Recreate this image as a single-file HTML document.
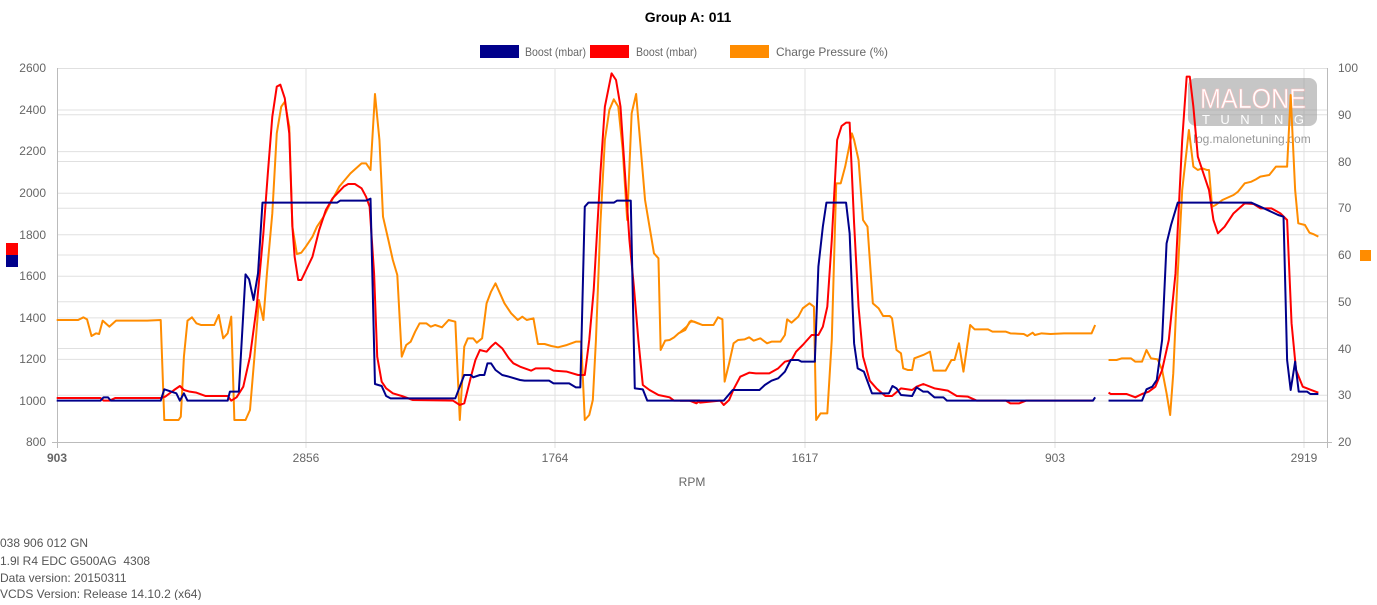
<!DOCTYPE html>
<html><head><meta charset="utf-8"><style>
body{margin:0;background:#fff;font-family:"Liberation Sans",sans-serif;}
svg text{font-family:"Liberation Sans",sans-serif;}
</style></head><body>
<svg width="1377" height="600" xmlns="http://www.w3.org/2000/svg">
<text x="688" y="22" text-anchor="middle" font-size="14" font-weight="bold" fill="#000">Group A: 011</text>
<rect x="480" y="45" width="39" height="13" fill="#00008b"/><text x="525" y="56" font-size="12" fill="#666" textLength="61" lengthAdjust="spacingAndGlyphs">Boost (mbar)</text>
<rect x="590" y="45" width="39" height="13" fill="#f00"/><text x="636" y="56" font-size="12" fill="#666" textLength="61" lengthAdjust="spacingAndGlyphs">Boost (mbar)</text>
<rect x="730" y="45" width="39" height="13" fill="#ff8c00"/><text x="776" y="56" font-size="12" fill="#666" textLength="112" lengthAdjust="spacingAndGlyphs">Charge Pressure (%)</text>
<g stroke="#e0e0e0" stroke-width="1">
<line x1="57" x2="1327" y1="68.5" y2="68.5"/><line x1="57" x2="1327" y1="110" y2="110"/><line x1="57" x2="1327" y1="151.6" y2="151.6"/><line x1="57" x2="1327" y1="193.2" y2="193.2"/><line x1="57" x2="1327" y1="234.7" y2="234.7"/><line x1="57" x2="1327" y1="276.3" y2="276.3"/><line x1="57" x2="1327" y1="317.9" y2="317.9"/><line x1="57" x2="1327" y1="359.4" y2="359.4"/><line x1="57" x2="1327" y1="401" y2="401"/>
<line x1="57" x2="1327" y1="114.8" y2="114.8"/><line x1="57" x2="1327" y1="161.5" y2="161.5"/><line x1="57" x2="1327" y1="208.3" y2="208.3"/><line x1="57" x2="1327" y1="255" y2="255"/><line x1="57" x2="1327" y1="301.8" y2="301.8"/><line x1="57" x2="1327" y1="348.5" y2="348.5"/><line x1="57" x2="1327" y1="395.3" y2="395.3"/>
<line x1="306" x2="306" y1="68" y2="448"/><line x1="555" x2="555" y1="68" y2="448"/><line x1="805" x2="805" y1="68" y2="448"/><line x1="1055" x2="1055" y1="68" y2="448"/><line x1="1304" x2="1304" y1="68" y2="448"/>
</g>
<g stroke="#bbb" stroke-width="1"><line x1="57.5" x2="57.5" y1="68" y2="448"/><line x1="1327.5" x2="1327.5" y1="68" y2="448"/><line x1="52" x2="1332" y1="442.5" y2="442.5"/></g>
<g font-size="12" fill="#666" text-anchor="end">
<text x="46" y="72">2600</text><text x="46" y="114">2400</text><text x="46" y="155">2200</text><text x="46" y="197">2000</text><text x="46" y="239">1800</text><text x="46" y="280">1600</text><text x="46" y="322">1400</text><text x="46" y="363">1200</text><text x="46" y="405">1000</text><text x="46" y="446">800</text>
</g>
<g font-size="12" fill="#666">
<text x="1338" y="72">100</text><text x="1338" y="119">90</text><text x="1338" y="166">80</text><text x="1338" y="212">70</text><text x="1338" y="259">60</text><text x="1338" y="306">50</text><text x="1338" y="353">40</text><text x="1338" y="399">30</text><text x="1338" y="446">20</text>
</g>
<g font-size="12" fill="#666" text-anchor="middle">
<text x="57" y="462" font-weight="bold">903</text><text x="306" y="462">2856</text><text x="555" y="462">1764</text><text x="805" y="462">1617</text><text x="1055" y="462">903</text><text x="1304" y="462">2919</text>
<text x="692" y="486">RPM</text>
</g>
<rect x="6" y="243" width="12" height="12" fill="#f00"/><rect x="6" y="255" width="12" height="12" fill="#00008b"/>
<rect x="1360" y="250" width="11" height="11" fill="#ff8c00"/>
<g opacity="0.55"><rect x="1188" y="78" width="129" height="48" rx="8" fill="#999"/>
<text x="1200" y="108" font-size="28" fill="#fff" stroke="#f88" stroke-width="0.6" textLength="106" lengthAdjust="spacingAndGlyphs">MALONE</text>
<text x="1202" y="124" font-size="13" fill="#fff" textLength="102" lengthAdjust="spacing">TUNING</text></g>
<text x="1252" y="143" text-anchor="middle" font-size="12" fill="#999">log.malonetuning.com</text>
<g fill="none" stroke-width="2" stroke-linejoin="round">
<g transform="translate(0,40) scale(0.4464,0.33333)">
<polyline vector-effect="non-scaling-stroke" stroke="#ff8c00" points="127,840 150,840 175,840 187,832 195,838 205,888 215,880 222,882 230,842 245,860 260,842 300,842 330,842 360,840 368,1140 400,1140 405,1130 412,950 420,842 430,832 440,850 450,855 480,855 490,825 500,895 510,880 518,830 525,1140 550,1140 560,1110 570,950 580,780 590,840 598,700 610,520 620,280 630,200 638,185 648,260 655,560 665,642 675,638 685,620 700,590 710,560 725,530 740,490 760,440 785,400 810,370 820,370 830,390 840,162 850,300 858,530 870,600 880,660 890,705 900,950 910,915 920,905 930,875 940,850 955,850 965,860 975,855 990,862 1005,840 1020,845 1030,1140 1040,920 1048,895 1060,895 1068,908 1080,895 1090,790 1100,755 1110,730 1120,760 1130,790 1145,820 1160,840 1170,830 1180,840 1195,835 1205,912 1220,912 1235,918 1250,922 1270,915 1290,905 1302,905 1310,1140 1320,1125 1328,1080 1335,900 1345,550 1355,300 1365,210 1375,178 1385,200 1395,330 1405,540 1415,220 1425,162 1435,320 1445,480 1455,560 1465,640 1475,655 1480,930 1490,902 1500,900 1510,892 1520,880 1535,870 1545,845 1555,845 1568,852"/>
<polyline vector-effect="non-scaling-stroke" stroke="#f00" points="127,1074 225,1074 232,1082 245,1082 258,1074 360,1074 370,1070 390,1050 403,1038 412,1050 425,1055 440,1058 460,1068 510,1068 518,1082 530,1072 545,1040 560,950 575,800 590,580 600,400 610,230 620,140 628,134 638,175 648,280 655,560 660,650 668,720 675,720 700,650 715,570 730,510 745,475 770,440 780,432 795,432 810,445 820,470 828,500 838,700 845,950 855,1025 865,1045 880,1060 900,1068 925,1080 1015,1082 1030,1095 1040,1090 1055,1010 1065,960 1075,930 1090,935 1100,920 1110,908 1125,925 1140,955 1150,970 1165,980 1190,992 1200,985 1230,985 1240,992 1270,995 1295,1005 1310,1005 1320,900 1330,750 1345,400 1355,200 1370,100 1380,120 1390,200 1400,400 1410,600 1420,740 1430,900 1440,1035 1455,1050 1475,1065 1500,1072 1510,1082 1545,1082 1560,1090 1568,1082"/>
<polyline vector-effect="non-scaling-stroke" stroke="#00008b" points="127,1082 225,1082 232,1072 242,1072 248,1082 360,1082 368,1048 395,1060 403,1082 412,1060 420,1082 510,1082 515,1055 535,1055 550,703 558,718 568,780 578,700 588,488 755,488 762,482 820,482 830,476 840,1032 855,1038 865,1068 875,1075 1020,1075 1040,1005 1055,1005 1060,1012 1075,1005 1085,1005 1092,970 1100,970 1110,990 1125,1005 1140,1010 1165,1020 1175,1022 1230,1022 1240,1030 1275,1030 1290,1042 1300,1042 1310,500 1318,488 1375,488 1382,482 1413,482 1422,1045 1440,1048 1450,1082 1568,1082"/>
</g>
<g transform="translate(680,40) scale(0.4464,0.33333)">
<polyline vector-effect="non-scaling-stroke" stroke="#ff8c00" points="0,877 15,860 25,842 40,850 50,855 75,855 85,832 95,838 100,1025 110,970 120,910 130,900 145,898 155,892 165,902 180,895 195,910 205,905 225,905 235,885 240,838 250,848 265,830 275,805 290,790 300,800 305,1140 315,1120 330,1120 340,900 350,430 360,430 370,380 385,280 390,300 400,360 410,540 420,560 432,790 445,805 455,828 470,828 475,835 485,930 495,940 500,985 510,990 520,990 525,955 545,945 560,935 568,992 595,992 608,960 615,960 625,910 635,995 650,855 660,868 690,868 700,875 730,875 740,880 770,882 778,888 790,878 795,885 810,880 830,882 860,880 900,880 922,880 930,855"/>
<polyline vector-effect="non-scaling-stroke" stroke="#ff8c00" points="960,960 978,960 990,955 1010,955 1020,965 1035,965 1045,930 1055,955 1070,958 1080,990 1090,1060 1098,1125 1105,1000 1115,700 1125,450 1140,270 1150,380 1160,390 1170,385 1180,390 1185,390 1192,500 1200,495 1215,480 1240,465 1250,455 1265,430 1280,425 1290,418 1300,410 1320,405 1335,380 1345,380 1360,380 1368,165 1378,450 1385,550 1400,555 1410,578 1420,583 1430,590"/>
<polyline vector-effect="non-scaling-stroke" stroke="#f00" points="0,1082 40,1082 45,1088 90,1082 98,1095 110,1080 120,1048 135,1010 155,998 170,1000 200,1000 220,985 235,965 250,960 260,935 275,915 295,885 310,885 320,860 330,800 340,600 352,300 362,258 372,248 380,248 390,550 400,800 410,950 425,1022 440,1045 460,1068 475,1068 495,1045 520,1050 530,1040 545,1032 570,1045 600,1052 620,1068 645,1070 665,1082 730,1082 740,1090 760,1090 775,1082 925,1082"/>
<polyline vector-effect="non-scaling-stroke" stroke="#f00" points="960,1058 965,1062 1000,1062 1020,1072 1035,1062 1050,1055 1065,1040 1080,990 1095,900 1110,700 1125,300 1135,110 1142,110 1150,200 1160,350 1175,410 1185,450 1195,540 1205,580 1220,560 1240,520 1265,490 1285,492 1300,505 1325,505 1345,520 1360,540 1370,850 1380,990 1395,1040 1410,1048 1430,1058"/>
<polyline vector-effect="non-scaling-stroke" stroke="#00008b" points="0,1082 98,1082 118,1050 178,1050 190,1035 205,1022 220,1015 235,995 248,960 265,960 272,965 302,965 310,680 320,560 328,488 372,488 380,580 390,910 398,985 412,995 430,1060 468,1060 476,1038 485,1045 495,1065 520,1068 530,1042 545,1055 555,1055 570,1072 590,1072 598,1082 925,1082 930,1072"/>
<polyline vector-effect="non-scaling-stroke" stroke="#00008b" points="960,1082 1035,1082 1045,1048 1058,1040 1068,1020 1080,900 1090,610 1100,555 1115,488 1280,488 1300,500 1340,525 1352,530 1360,960 1368,1050 1378,965 1386,1055 1405,1055 1412,1062 1430,1062"/>
</g>
</g>
<g font-size="12" fill="#555">
<text x="0" y="547">038 906 012 GN</text>
<text x="0" y="565">1.9l R4 EDC G500AG&#160; 4308</text>
<text x="0" y="582">Data version: 20150311</text>
<text x="0" y="598">VCDS Version: Release 14.10.2 (x64)</text>
</g>
</svg>
</body></html>
